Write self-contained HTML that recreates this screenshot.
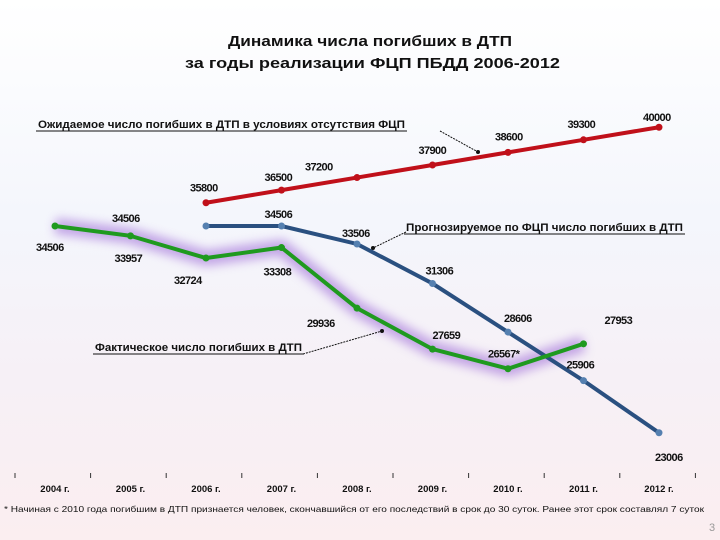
<!DOCTYPE html>
<html><head><meta charset="utf-8"><style>
html,body{margin:0;padding:0}
body{width:720px;height:540px;overflow:hidden;font-family:"Liberation Sans",sans-serif;background:linear-gradient(180deg,#ffffff 0%,#f4f6fc 40%,#f6f0f6 70%,#fbeef0 100%)}
</style></head><body>
<svg width="720" height="540" xmlns="http://www.w3.org/2000/svg" style="position:absolute;left:0;top:0">
<defs><filter id="glow" x="-10%" y="-30%" width="120%" height="160%"><feGaussianBlur stdDeviation="5"/></filter></defs>
<g id="g" font-family="Liberation Sans, sans-serif"></g>
</svg>
<script>
const years=["2004 г.","2005 г.","2006 г.","2007 г.","2008 г.","2009 г.","2010 г.","2011 г.","2012 г."];
const redVals=[null,null,35800,36500,37200,37900,38600,39300,40000];
const blueVals=[null,null,34506,34506,33506,31306,28606,25906,23006];
const greenVals=[34506,33957,32724,33308,29936,27659,26567,27953,null];
const greenLabels=["34506","33957","32724","33308","29936","27659","26567*","27953",""];
const blueLab=["","","34506","34506","33506","31306","28606","25906","23006"];
const redOff=[null,null,[-16,-11],[-17,-9],[-52,-7],[-14,-11],[-13,-12],[-16,-12],[-16,-6]];
const blueOff=[null,null,[-94,-4],[-17,-8],[-15,-7],[-7,-9],[-4,-10],[-17,-12],[-4,28]];
const greenOff=[[-19,25],[-16,26],[-32,26],[-18,28],[-50,19],[0,-10],[-20,-11],[21,-20],null];
const g=document.getElementById('g');
const NS="http://www.w3.org/2000/svg";
function X(i){return 55+i*75.5;}
function Y(v){return 226+(34506-v)*0.01798;}
function mk(t,a,txt){const e=document.createElementNS(NS,t);for(const k in a)e.setAttribute(k,a[k]);if(txt!==undefined)e.textContent=txt;g.appendChild(e);return e;}
function pts(vals){return vals.map((v,i)=>v==null?null:X(i)+","+Y(v)).filter(p=>p).join(" ");}
let t=mk('text',{x:228,y:46,'font-size':15,'font-weight':'bold',fill:'#111',textLength:284,lengthAdjust:'spacingAndGlyphs'},'Динамика числа погибших в ДТП');

t=mk('text',{x:185,y:68,'font-size':15,'font-weight':'bold',fill:'#111',textLength:375,lengthAdjust:'spacingAndGlyphs'},'за годы реализации ФЦП ПБДД 2006-2012');

let e=mk('polyline',{points:pts(greenVals),fill:'none',stroke:'#a070d8','stroke-width':16,opacity:0.6,filter:'url(#glow)','stroke-linejoin':'round'});

e=mk('polyline',{points:pts(redVals),fill:'none',stroke:'#c0101a','stroke-width':4});

e=mk('polyline',{points:pts(blueVals),fill:'none',stroke:'#2a5080','stroke-width':4});

e=mk('polyline',{points:pts(greenVals),fill:'none',stroke:'#1f9a1f','stroke-width':4,'stroke-linejoin':'round'});

function series(vals,col,off,labs,name){vals.forEach((v,i)=>{if(v==null)return;
 const c=mk('circle',{cx:X(i),cy:Y(v),r:3.5,fill:col});
 
 if(off[i]&&labs[i]){const l=mk('text',{x:X(i)+off[i][0],y:Y(v)+off[i][1],'font-size':11,'font-weight':'bold',fill:'#111','letter-spacing':'-0.6'},labs[i]);
 }});}
series(redVals,'#c0101a',redOff,redVals.map(v=>v==null?'':String(v)),'expected');
series(blueVals,'#5580b0',blueOff,blueLab,'forecast');
series(greenVals,'#1f9a1f',greenOff,greenLabels,'actual');
function note(x,y,w,txt,lx1,ly1,lx2,ly2,name){
 const a=mk('text',{x:x,y:y,'font-size':11,'font-weight':'bold',fill:'#111',textLength:w,lengthAdjust:'spacingAndGlyphs'},txt);
 
 mk('line',{x1:x-2,y1:y+3,x2:x+w+2,y2:y+3,stroke:'#111','stroke-width':1});
 mk('line',{x1:lx1,y1:ly1,x2:lx2,y2:ly2,stroke:'#111','stroke-width':1,'stroke-dasharray':'2,1'});
 mk('circle',{cx:lx2,cy:ly2,r:2,fill:'#111'});}
note(38,128,367,'Ожидаемое число погибших в ДТП в  условиях отсутствия ФЦП',440,131,478,152,'expected-annotation');
note(406,231,277,'Прогнозируемое по ФЦП число погибших в ДТП',406,232,373,248,'forecast-annotation');
note(95,351,207,'Фактическое число погибших в ДТП',303,354,382,331,'actual-annotation');
for(let i=0;i<=9;i++){const k=mk('line',{x1:15+i*75.6,y1:473,x2:15+i*75.6,y2:478,stroke:'#333'});}
years.forEach((y,i)=>{const l=mk('text',{x:X(i),y:492,'text-anchor':'middle','font-size':9.5,'font-weight':'bold',fill:'#111'},y);
 });
t=mk('text',{x:4,y:512,'font-size':8.5,fill:'#111',textLength:700,lengthAdjust:'spacingAndGlyphs'},'* Начиная с 2010 года погибшим в ДТП признается человек, скончавшийся от его последствий в срок до 30 суток. Ранее этот срок составлял 7 суток');

t=mk('text',{x:709,y:531,'font-size':11,fill:'#999'},'3');

</script>
</body></html>
